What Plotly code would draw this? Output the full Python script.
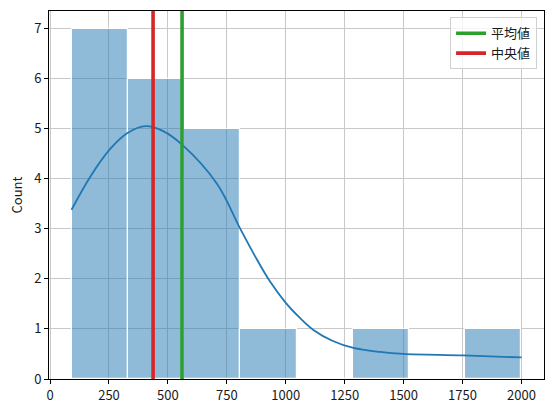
import plotly.graph_objects as go

# Histogram bins (edges) and counts
bin_edges = [91, 330, 568, 807, 1046, 1284, 1523, 1762, 2000]
counts = [7, 6, 5, 1, 0, 1, 0, 1]

# KDE curve
kde_x = [91, 172, 256, 327, 406, 480, 560, 708, 807, 870, 934, 1000, 1060, 1117, 1200, 1287, 1400, 1499, 1753, 2000]
kde_y = [3.38, 4.05, 4.60, 4.91, 5.05, 4.95, 4.68, 3.90, 3.00, 2.45, 1.94, 1.52, 1.22, 0.98, 0.76, 0.62, 0.54, 0.50, 0.47, 0.43]

mean_val = 560
median_val = 437

x_ticks = [0, 250, 500, 750, 1000, 1250, 1500, 1750, 2000]
y_ticks = [0, 1, 2, 3, 4, 5, 6, 7]
y_max = 7.35

centers = [(bin_edges[i] + bin_edges[i + 1]) / 2 for i in range(len(counts))]
widths = [bin_edges[i + 1] - bin_edges[i] for i in range(len(counts))]

FONT = "Noto Sans CJK JP"

fig = go.Figure()
fig.add_trace(go.Bar(
    x=centers, y=counts, width=widths,
    marker=dict(color="rgba(31,119,180,0.5)", line=dict(color="white", width=1.2)),
    showlegend=False, hoverinfo="skip",
))
fig.add_trace(go.Scatter(
    x=kde_x, y=kde_y, mode="lines", line=dict(color="#1f77b4", width=1.8, shape="spline", smoothing=1.0),
    showlegend=False,
))
fig.add_trace(go.Scatter(
    x=[mean_val, mean_val], y=[0, y_max], mode="lines",
    line=dict(color="#2ca02c", width=3.6), name="平均値",
))
fig.add_trace(go.Scatter(
    x=[median_val, median_val], y=[0, y_max], mode="lines",
    line=dict(color="#d62728", width=3.6), name="中央値",
))

fig.update_layout(
    width=553, height=413,
    margin=dict(l=49, r=9, t=11, b=34, autoexpand=False),
    paper_bgcolor="white", plot_bgcolor="white",
    font=dict(family=FONT, size=13, color="#1a1a1a"),
    bargap=0,
    legend=dict(
        x=0.986, y=0.983, xanchor="right", yanchor="top",
        bgcolor="rgba(255,255,255,0.8)", bordercolor="#d0d0d0", borderwidth=1,
        font=dict(family=FONT, size=13), tracegroupgap=0,
    ),
)
fig.update_xaxes(
    range=[-4.5, 2095.5], tickvals=x_ticks, ticktext=[str(v) for v in x_ticks],
    showgrid=True, gridcolor="#c8c8c8", gridwidth=0.8,
    showline=True, linecolor="black", linewidth=1, mirror=True,
    ticks="outside", ticklen=4, tickcolor="black", zeroline=False, automargin=False,
)
fig.update_yaxes(
    range=[0, y_max], tickvals=y_ticks, ticktext=[str(v) for v in y_ticks],
    showgrid=True, gridcolor="#c8c8c8", gridwidth=0.8,
    showline=True, linecolor="black", linewidth=1, mirror=True,
    ticks="outside", ticklen=4, tickcolor="black", zeroline=False, automargin=False,
    title=dict(text="Count", standoff=8, font=dict(family=FONT, size=13)),
)

fig.write_html(
    "out.html",
    config={"displayModeBar": False},
    post_script="document.body.style.margin='0';document.body.style.overflow='hidden';",
)
